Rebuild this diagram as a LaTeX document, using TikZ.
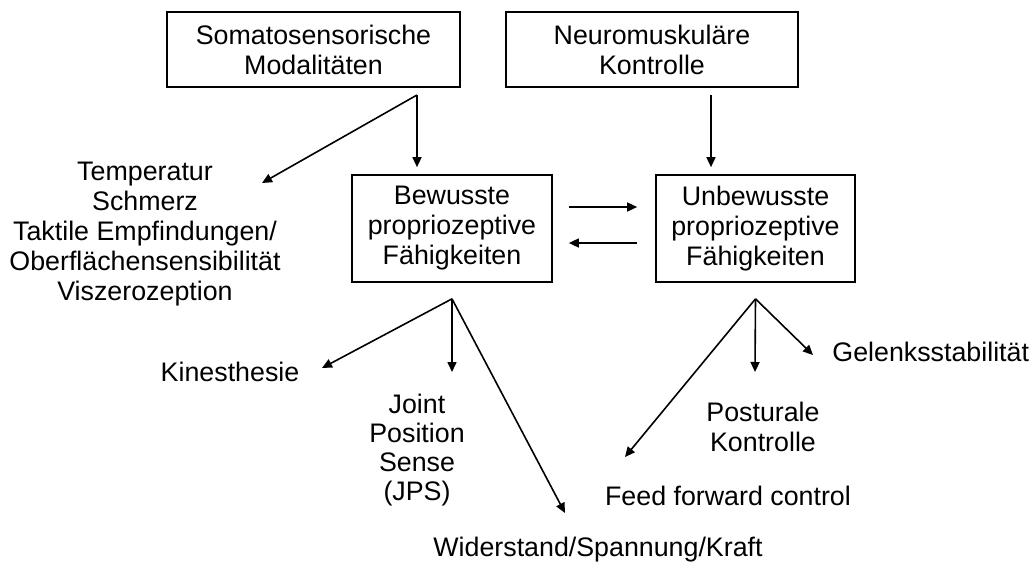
\documentclass[tikz,border=0pt]{standalone}
\usepackage{fontspec}
\setmainfont{Liberation Sans}
\usetikzlibrary{arrows.meta,positioning}

\tikzset{
  kasten/.style={draw, line width=0.85pt, align=center, inner sep=0pt},
  txt/.style={align=center, inner sep=0pt},
  pfeil/.style={-{Triangle[length=5pt,width=4.5pt]}, line width=0.8pt},
}

\begin{document}
\begin{tikzpicture}[x=0.5pt,y=-0.5pt, font=\fontsize{13.4}{15}\selectfont]
 \useasboundingbox (0,0) rectangle (1034,563);
 % boxes
 \node[kasten, minimum width=146.5pt, minimum height=37.5pt] (soma) at (313.5,49.5) {Somatosensorische\\Modalitäten};
 \node[kasten, minimum width=146pt, minimum height=37.5pt] (neuro) at (652,49.5) {Neuromuskuläre\\Kontrolle};
 \node[kasten, minimum width=100pt, minimum height=53.5pt] (bew) at (452,228.5) {Bewusste\\propriozeptive\\Fähigkeiten};
 \node[kasten, minimum width=99.5pt, minimum height=53.5pt] (unbew) at (755.5,228.5) {Unbewusste\\propriozeptive\\Fähigkeiten};
 % plain labels
 \node[txt] (temp) at (145,234) {Temperatur\\Schmerz\\Taktile Empfindungen/\\Oberflächensensibilität\\Viszerozeption};
 \node[txt] (kin) at (230,372) {Kinesthesie};
 \node[txt, font=\fontsize{13.4}{14.5}\selectfont] (jps) at (417,450) {Joint\\Position\\Sense\\(JPS)};
 \node[txt] (wid) at (598,550) {Widerstand/Spannung/Kraft};
 \node[txt, anchor=west] (gel) at (832,352) {Gelenksstabilität};
 \node[txt] (post) at (763,427) {Posturale\\Kontrolle};
 \node[txt] (feed) at (728,496) {Feed forward control};
 % fork points and arrow ends
 \coordinate (sfork) at (417,95);
 \coordinate (nfork) at (711,95);
 \coordinate (bfork) at ([shift={(0,16)}]bew.south);
 \coordinate (ufork) at ([shift={(0,16)}]unbew.south);
 \coordinate (tempend) at (262,183);
 \coordinate (kinend) at (322,368);
 \coordinate (jpsend) at (452,372);
 \coordinate (widend) at (565,513);
 \coordinate (gelend) at (813,355);
 \coordinate (postend) at (755,372);
 \coordinate (feedend) at (625,457);
 % arrows
 \draw[pfeil, shorten >=3.5pt] (sfork) -- (sfork |- bew.north);
 \draw[pfeil] (sfork) -- (tempend);
 \draw[pfeil, shorten >=3.5pt] (nfork) -- (nfork |- unbew.north);
 \draw[pfeil] ([shift={(16,-21.5)}]bew.east) -- ([shift={(-18,-21.5)}]unbew.west);
 \draw[pfeil] ([shift={(-18,14.5)}]unbew.west) -- ([shift={(16,14.5)}]bew.east);
 \draw[pfeil] (bfork) -- (kinend);
 \draw[pfeil] (bfork) -- (jpsend);
 \draw[pfeil] (bfork) -- (widend);
 \draw[pfeil] (ufork) -- (gelend);
 \draw[pfeil] (ufork) -- (postend);
 \draw[pfeil] (ufork) -- (feedend);
\end{tikzpicture}
\end{document}
